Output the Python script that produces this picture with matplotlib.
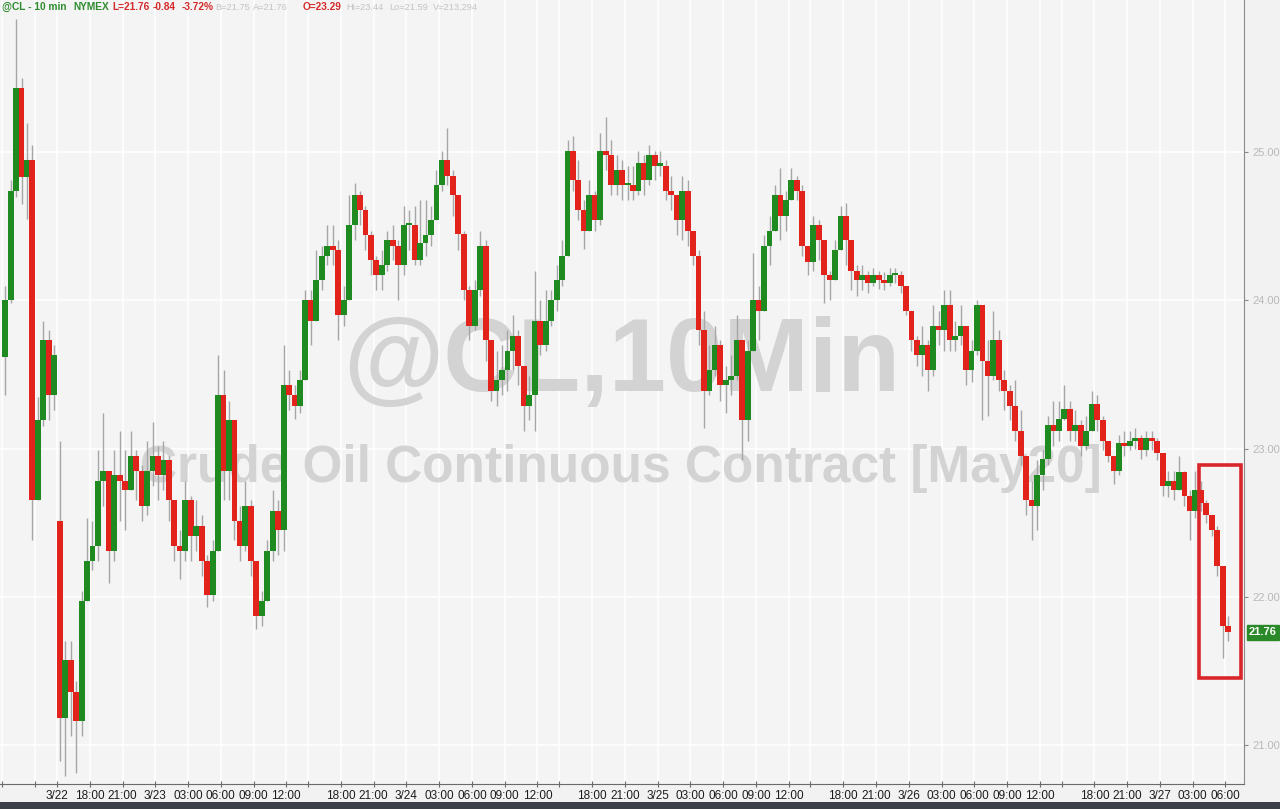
import numpy as np
import matplotlib
matplotlib.use("Agg")
import matplotlib.pyplot as plt
from matplotlib import font_manager
from matplotlib.patches import Rectangle
import matplotlib.transforms as mtransforms

# ---------------- data (30-minute bars, price in USD) ----------------
# Friday 3/20 afternoon bars (before the weekend break)
fri_open = 23.62
fri_close = [24.00, 24.74, 25.43, 24.83, 24.95, 22.65, 23.19, 23.73, 23.36, 23.63]
fri_high = [24.10, 24.81, 25.90, 25.50, 25.20, 25.05, 23.35, 23.86, 23.80, 23.70]
fri_low = [23.36, 23.98, 24.70, 24.65, 24.55, 22.38, 22.97, 23.15, 23.19, 23.26]

# Sunday 3/22 open onward
sun_open = 22.51
closes = [
    21.18, 21.57, 21.36, 21.16, 21.97, 22.24, 22.34, 22.78, 22.85, 22.31,
    22.82, 22.78, 22.72, 22.95, 22.85, 22.61, 22.85, 22.95, 22.82, 22.92,
    22.65, 22.34, 22.31, 22.65, 22.41, 22.48, 22.24, 22.01, 22.31, 23.36,
    22.85, 23.19, 22.51, 22.34, 22.61, 22.24, 21.87, 21.97, 22.31, 22.58,
    22.45, 23.43, 23.36, 23.29, 23.46, 24.00, 23.86, 24.14, 24.30, 24.37,
    24.34, 23.90, 24.00, 24.51, 24.71, 24.61, 24.44, 24.27, 24.17, 24.24,
    24.41, 24.37, 24.24, 24.51, 24.51, 24.27, 24.39, 24.44, 24.54, 24.78,
    24.95, 24.84, 24.71, 24.45, 24.07, 23.83, 24.07, 24.37, 23.73, 23.39,
    23.46, 23.53, 23.66, 23.76, 23.56, 23.29, 23.36, 23.86, 23.70, 23.86,
    24.00, 24.14, 24.30, 25.01, 24.81, 24.61, 24.47, 24.71, 24.54, 25.01,
    24.98, 24.78, 24.88, 24.78, 24.78, 24.74, 24.93, 24.81, 24.98, 24.91,
    24.91, 24.74, 24.71, 24.54, 24.74, 24.47, 24.30, 23.80, 23.39, 23.53,
    23.70, 23.43, 23.46, 23.49, 23.73, 23.19, 23.66, 24.00, 23.93, 24.37,
    24.47, 24.71, 24.57, 24.68, 24.81, 24.74, 24.37, 24.26, 24.51, 24.41,
    24.17, 24.14, 24.34, 24.57, 24.41, 24.20, 24.14, 24.17, 24.12, 24.17,
    24.14, 24.12, 24.17, 24.17, 24.10, 23.93, 23.73, 23.63, 23.70, 23.53,
    23.83, 23.80, 23.97, 23.73, 23.76, 23.83, 23.53, 23.66, 23.97, 23.59,
    23.49, 23.73, 23.46, 23.39, 23.29, 23.12, 22.95, 22.65, 22.61, 22.82,
    22.93, 23.16, 23.12, 23.20, 23.27, 23.12, 23.16, 23.02, 23.12, 23.30,
    23.19, 23.05, 22.95, 22.85, 23.04, 23.02, 23.05, 23.07, 22.99, 23.07,
    23.05, 22.97, 22.75, 22.78, 22.72, 22.84, 22.68, 22.58, 22.72, 22.63,
    22.55, 22.45, 22.21, 21.80, 21.76,
]
highs = [
    23.05, 21.70, 21.70, 21.43, 22.04, 22.53, 22.51, 22.99, 23.24, 22.85,
    22.99, 23.12, 22.99, 23.12, 22.99, 22.89, 23.05, 23.18, 23.02, 23.05,
    22.95, 22.65, 22.45, 22.78, 22.68, 22.65, 22.55, 22.28, 22.38, 23.63,
    23.53, 23.32, 23.05, 22.61, 22.78, 22.65, 22.18, 22.04, 22.38, 22.72,
    22.65, 23.70, 23.53, 23.43, 23.53, 24.07, 24.07, 24.34, 24.37, 24.51,
    24.51, 24.41, 24.10, 24.71, 24.79, 24.74, 24.64, 24.47, 24.30, 24.34,
    24.47, 24.51, 24.41, 24.64, 24.61, 24.64, 24.68, 24.68, 24.64, 24.88,
    25.01, 25.16, 24.88, 24.71, 24.47, 24.10, 24.14, 24.47, 24.41, 23.66,
    23.66, 23.70, 23.80, 23.90, 23.80, 23.53, 23.49, 24.20, 24.00, 24.07,
    24.07, 24.24, 24.41, 25.08, 25.11, 24.95, 24.68, 24.81, 24.74, 25.13,
    25.24, 25.08, 24.98, 24.95, 24.91, 24.91, 25.01, 24.98, 25.05, 25.01,
    25.01, 24.95, 24.84, 24.71, 24.84, 24.81, 24.44, 24.34, 23.93, 23.70,
    23.83, 23.73, 23.56, 23.63, 23.90, 23.73, 23.73, 24.32, 24.10, 24.44,
    24.57, 24.78, 24.89, 24.74, 24.89, 24.84, 24.78, 24.37, 24.57, 24.54,
    24.37, 24.20, 24.41, 24.64, 24.66, 24.30, 24.24, 24.24, 24.20, 24.22,
    24.20, 24.19, 24.22, 24.22, 24.20, 24.10, 23.93, 23.76, 23.83, 23.73,
    23.97, 23.93, 24.07, 24.07, 23.86, 23.97, 23.83, 23.73, 24.00, 23.86,
    23.73, 23.93, 23.80, 23.53, 23.43, 23.46, 23.26, 22.92, 22.78, 22.92,
    22.99, 23.22, 23.32, 23.32, 23.43, 23.32, 23.26, 23.19, 23.22, 23.39,
    23.36, 23.22, 23.05, 22.95, 23.09, 23.12, 23.12, 23.14, 23.09, 23.12,
    23.12, 23.07, 22.95, 22.85, 22.85, 22.95, 22.85, 22.72, 22.85, 22.78,
    22.65, 22.55, 22.48, 22.21, 21.87,
]
lows = [
    20.89, 20.79, 21.06, 20.81, 21.06, 21.97, 22.18, 22.24, 22.61, 22.09,
    22.24, 22.51, 22.45, 22.72, 22.65, 22.51, 22.55, 22.75, 22.65, 22.72,
    22.51, 22.24, 22.12, 22.24, 22.24, 22.31, 22.14, 21.93, 21.97, 22.31,
    22.65, 22.65, 22.38, 22.24, 22.31, 22.14, 21.78, 21.80, 21.97, 22.24,
    22.28, 22.31, 23.26, 23.20, 23.24, 23.49, 23.70, 24.00, 24.07, 24.24,
    24.24, 23.73, 23.83, 24.00, 24.41, 24.51, 24.34, 24.17, 24.07, 24.07,
    24.20, 24.27, 24.00, 24.17, 24.34, 24.24, 24.24, 24.30, 24.37, 24.54,
    24.74, 24.78, 24.57, 24.34, 24.00, 23.73, 23.80, 24.03, 23.59, 23.32,
    23.29, 23.36, 23.39, 23.53, 23.43, 23.12, 23.19, 23.12, 23.63, 23.66,
    23.83, 23.93, 24.10, 24.34, 24.74, 24.54, 24.35, 24.57, 24.47, 24.51,
    24.88, 24.71, 24.71, 24.68, 24.68, 24.68, 24.71, 24.71, 24.78, 24.81,
    24.84, 24.68, 24.61, 24.44, 24.41, 24.37, 24.24, 23.70, 23.14, 23.36,
    23.49, 23.32, 23.24, 23.36, 23.46, 22.92, 23.05, 23.70, 23.73, 23.93,
    24.24, 24.47, 24.41, 24.47, 24.71, 24.68, 24.30, 24.17, 24.20, 24.27,
    23.98, 24.00, 24.17, 24.34, 24.24, 24.07, 24.03, 24.07, 24.05, 24.10,
    24.08, 24.07, 24.10, 24.12, 24.05, 23.90, 23.66, 23.56, 23.49, 23.39,
    23.49, 23.70, 23.66, 23.66, 23.66, 23.70, 23.43, 23.45, 23.63, 23.19,
    23.22, 23.46, 23.39, 23.26, 23.19, 23.05, 22.89, 22.55, 22.38, 22.45,
    22.72, 22.89, 23.02, 23.05, 23.19, 23.05, 23.05, 22.95, 22.99, 23.12,
    23.12, 22.99, 22.91, 22.76, 22.82, 22.95, 22.99, 23.00, 22.93, 22.95,
    22.99, 22.92, 22.68, 22.67, 22.65, 22.72, 22.61, 22.38, 22.53, 22.58,
    22.50, 22.41, 22.14, 21.59, 21.70,
]

# x-axis ticks, in trading hours from the Sunday open (weekend and daily break removed)
tick_hours = [-5, -2, 0, 3, 6, 9, 12, 15, 18, 21, 23, 26, 29, 32, 35, 38, 41, 44, 46,
              49, 52, 55, 58, 61, 64, 67, 69, 72, 75, 78, 81, 84, 87, 90, 92,
              95, 98, 101, 104, 107]
tick_labels = ["", "", "3/22", "18:00", "21:00", "3/23", "03:00", "06:00", "09:00", "12:00", "",
               "18:00", "21:00", "3/24", "03:00", "06:00", "09:00", "12:00", "",
               "18:00", "21:00", "3/25", "03:00", "06:00", "09:00", "12:00", "",
               "18:00", "21:00", "3/26", "03:00", "06:00", "09:00", "12:00", "",
               "18:00", "21:00", "3/27", "03:00", "06:00"]
price_ticks = [21.0, 22.0, 23.0, 24.0, 25.0]
last_price = 21.76

# ---------------- assemble OHLC ----------------
all_close = np.array(fri_close + closes)
all_high = np.array(fri_high + highs)
all_low = np.array(fri_low + lows)
all_open = np.empty_like(all_close)
all_open[0] = fri_open
all_open[1:] = all_close[:-1]
n_fri = len(fri_close)
all_open[n_fri] = sun_open
all_high = np.maximum(all_high, np.maximum(all_open, all_close))
all_low = np.minimum(all_low, np.minimum(all_open, all_close))
bar_index = np.arange(-n_fri, len(closes))
bar_x = bar_index * 0.5 + 0.25  # centre of each 30-minute bar, in trading hours

# ---------------- fonts ----------------
avail = {f.name for f in font_manager.fontManager.ttflist}
narrow = "Liberation Sans Narrow" if "Liberation Sans Narrow" in avail else "Liberation Sans"
plt.rcParams["font.family"] = ["Liberation Sans", "DejaVu Sans"]

W, H = 1280, 809
fig = plt.figure(figsize=(W / 100, H / 100), dpi=100, facecolor="#f2f2f2")
ax = fig.add_axes([0, 25 / H, 1244 / W, 784 / H])
ax.set_facecolor("#f4f4f4")

px_per_hour = 10.92
x_left = -57 / px_per_hour
x_right = (1244 - 57) / px_per_hour
ax.set_xlim(x_left, x_right)
ax.set_ylim(21 - 39 / 148, 25 + 152 / 148)

# grid
for t in tick_hours:
    ax.axvline(t, color="white", lw=1.1, zorder=0)
for p in price_ticks:
    ax.axhline(p, color="white", lw=1.1, zorder=0)

# watermarks
ax.text(0.5, 0.535, "@CL,10Min", transform=ax.transAxes, ha="center", va="center",
        fontsize=74, fontweight="bold", color="#d3d3d3", zorder=1)
ax.text(0.499, 0.403, "Crude Oil Continuous Contract [May20]", transform=ax.transAxes,
        ha="center", va="center", fontsize=37, fontweight="bold", color="#d3d3d3", zorder=1)

# candles
up = all_close >= all_open
col = np.where(up, "#1f8a1f", "#e2231c")
ax.vlines(bar_x, all_low, all_high, color="#a6a6a6", lw=1.0, zorder=2)
body_h = np.maximum(np.abs(all_close - all_open), 0.015)
ax.bar(bar_x, body_h, bottom=np.minimum(all_open, all_close), width=0.54,
       color=col, edgecolor="none", linewidth=0, zorder=3)

# highlight box
ax.add_patch(Rectangle((104.55, 21.45), 3.85, 1.44, fill=False, ec="#d9262b",
                       lw=2.6, zorder=6, clip_on=False))

# axes styling
for s in ["top", "left"]:
    ax.spines[s].set_visible(False)
ax.spines["right"].set_color("#8a8a8a")
ax.spines["bottom"].set_color("#6a6a6a")
ax.yaxis.tick_right()
ax.set_yticks(price_ticks)
ax.set_yticklabels([f"{p:.2f}" for p in price_ticks])
ax.tick_params(axis="y", colors="#8a8a8a", labelcolor="#b9b9b9", labelsize=8, length=3, pad=3)
ax.set_xticks(tick_hours)
ax.set_xticklabels(tick_labels)
ax.tick_params(axis="x", colors="#6a6a6a", labelcolor="#1c1c1c", labelsize=8.5,
               length=4, direction="inout", pad=2)
for lab in ax.get_xticklabels():
    lab.set_fontfamily([narrow, "DejaVu Sans"])

# last price tag
trans = mtransforms.blended_transform_factory(ax.transAxes, ax.transData)
ax.text(1.0 + 5 / 1244, last_price, f"{last_price:.2f}", transform=trans, ha="left", va="center",
        fontsize=8, fontweight="bold", color="white", zorder=7, clip_on=False,
        bbox=dict(boxstyle="square,pad=0.2", fc="#2a8a2a", ec="#2a8a2a"))

# header
hy = 1 - 7 / H
header = [
    (2, "@CL - 10 min", "#2e8b2e", True), (73, "NYMEX", "#2e8b2e", True),
    (112, "L=21.76", "#d42a2a", True), (153, "-0.84", "#d42a2a", True),
    (182, "-3.72%", "#d42a2a", True),
    (215, "B=21.75", "#c4c4c4", False), (253, "A=21.76", "#c4c4c4", False),
    (303, "O=23.29", "#d42a2a", True),
    (346, "Hi=23.44", "#c4c4c4", False), (389, "Lo=21.59", "#c4c4c4", False),
    (433, "V=213,294", "#c4c4c4", False),
]
for x, s, c, b in header:
    if b:
        fig.text(x / W, hy, s, ha="left", va="center", fontsize=7.3,
                 fontweight="bold", color=c)
    else:
        fig.text(x / W, hy, s, ha="left", va="center", fontsize=6.7,
                 fontweight="normal", color=c)

# bottom dark bar
fig.patches.append(Rectangle((0, 0), 1, 7 / H, transform=fig.transFigure,
                             fc="#3c3f47", ec="none", zorder=0))

fig.savefig("out.png", dpi=100, facecolor=fig.get_facecolor())
